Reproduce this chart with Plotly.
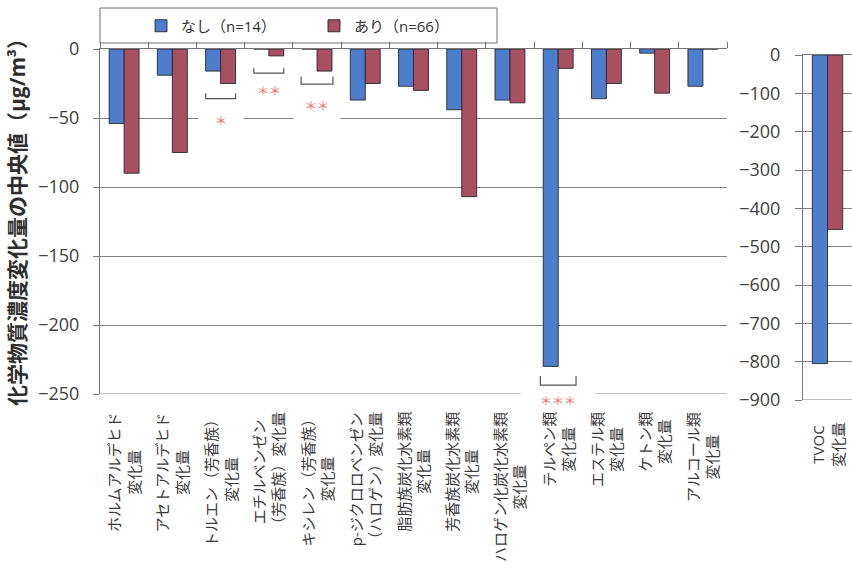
import plotly.graph_objects as go

# ---- data -------------------------------------------------------------
categories = [
    "ホルムアルデヒド<br>変化量",
    "アセトアルデヒド<br>変化量",
    "トルエン（芳香族）<br>変化量",
    "エチルベンゼン<br>（芳香族）変化量",
    "キシレン（芳香族）<br>変化量",
    "p-ジクロロベンゼン<br>（ハロゲン）変化量",
    "脂肪族炭化水素類<br>変化量",
    "芳香族炭化水素類<br>変化量",
    "ハロゲン化炭化水素類<br>変化量",
    "テルペン類<br>変化量",
    "エステル類<br>変化量",
    "ケトン類<br>変化量",
    "アルコール類<br>変化量",
]
nashi = [-54, -19, -16, 0, 0, -37, -27, -44, -37, -230, -36, -3, -27]
ari = [-90, -75, -25, -5, -16, -25, -30, -107, -39, -14, -25, -32, 0]

tvoc_category = ["TVOC<br>変化量"]
tvoc_nashi = [-805]
tvoc_ari = [-455]

series_names = ["なし（n=14）", "あり（n=66）"]

# significance: category index, stars, bracket bottom/top (µg/m³), star level
sig_index = [2, 3, 4, 9]
sig_stars = ["＊", "＊＊", "＊＊", "＊＊＊"]
sig_bracket_low = [-36, -17.5, -25.5, -243.5]
sig_bracket_high = [-32, -14, -20, -237]
sig_star_y = [-51.5, -30, -40.5, -250]

left_ticks = [0, -50, -100, -150, -200, -250]
right_ticks = list(range(0, -1000, -100))

# ---- style ------------------------------------------------------------
W, H = 852, 580
ML, MR, MT, MB = 100, 0, 49, 180
PW, PH = W - ML - MR, H - MT - MB

BLUE = "#4D7DCB"
RED = "#A84F62"
EDGE = "rgba(40,40,50,0.9)"
GRID = "#828282"
AXIS = "#767676"
TXT = "#3a3a3a"
STAR = "#FF5F5F"
FONT = "Open Sans, Noto Sans CJK JP"
JP = "Noto Sans CJK JP"

# star box sizes (white background cuts the gridline behind the stars)
star_box_w = [42, 30, 44, 72]
star_box_h = [22, 20, 30, 20]
star_shift = [0, 0, 0, -6]
bracket_half = [0.31, 0.31, 0.33, 0.37]


def fx(p):
    return (p - ML) / PW


def fy(p):
    return (H - MB - p) / PH


fig = go.Figure()

bar_style = dict(marker_line_color=EDGE, marker_line_width=1)
fig.add_trace(go.Bar(x=categories, y=nashi, name=series_names[0],
                     marker_color=BLUE, xaxis="x", yaxis="y", **bar_style))
fig.add_trace(go.Bar(x=categories, y=ari, name=series_names[1],
                     marker_color=RED, xaxis="x", yaxis="y", **bar_style))
fig.add_trace(go.Bar(x=tvoc_category, y=tvoc_nashi, name=series_names[0],
                     marker_color=BLUE, xaxis="x2", yaxis="y2",
                     showlegend=False, **bar_style))
fig.add_trace(go.Bar(x=tvoc_category, y=tvoc_ari, name=series_names[1],
                     marker_color=RED, xaxis="x2", yaxis="y2",
                     showlegend=False, **bar_style))

tickfont = dict(family=FONT, size=18, color="#404040")

fig.update_layout(
    width=W, height=H,
    margin=dict(l=ML, r=MR, t=MT, b=MB, pad=0),
    paper_bgcolor="white", plot_bgcolor="white",
    barmode="group", bargap=0.38, bargroupgap=0,
    font=dict(family=FONT, color=TXT),
    showlegend=True,
    legend=dict(orientation="h", x=fx(141), xanchor="left",
                y=fy(26), yanchor="middle",
                font=dict(family=FONT, size=15, color="#333333"),
                bgcolor="rgba(0,0,0,0)", borderwidth=0,
                entrywidth=128, entrywidthmode="pixels",
                traceorder="normal"),
    xaxis=dict(domain=[0, fx(727)], side="top", type="category",
               showline=True, linecolor=AXIS, linewidth=1,
               ticks="outside", tickson="boundaries", ticklen=6,
               tickcolor=AXIS, showticklabels=False, showgrid=False,
               zeroline=False),
    yaxis=dict(domain=[fy(394), 1], range=[-250, 0], autorange=False,
               tickvals=left_ticks, ticks="outside", ticklen=6,
               tickcolor=AXIS, showline=True, linecolor=AXIS, linewidth=1,
               showgrid=True, gridcolor=GRID, gridwidth=1,
               zeroline=False, tickfont=tickfont, ticklabelstandoff=10),
    xaxis2=dict(domain=[fx(803), 1], side="top", type="category",
                anchor="y2", showline=True, linecolor=AXIS, linewidth=1,
                ticks="", showticklabels=False, showgrid=False,
                zeroline=False),
    yaxis2=dict(domain=[0, fy(55)], anchor="x2", range=[-900, 0],
                autorange=False, tickvals=right_ticks, ticks="outside",
                ticklen=7, tickcolor=AXIS, showline=True, linecolor=AXIS,
                linewidth=1, showgrid=True, gridcolor=GRID, gridwidth=1,
                zeroline=False, tickfont=tickfont, ticklabelstandoff=11),
)

shapes = []
# bottom frame lines (range ends carry no gridline of their own)
shapes.append(dict(type="line", xref="x domain", yref="y", x0=0, x1=1,
                   y0=-250, y1=-250, line=dict(color=GRID, width=1)))
shapes.append(dict(type="line", xref="x2 domain", yref="y2", x0=0, x1=1,
                   y0=-900, y1=-900, line=dict(color=GRID, width=1)))
# legend frame
shapes.append(dict(type="rect", xref="paper", yref="paper",
                   x0=fx(100), x1=fx(497), y0=fy(43), y1=fy(8),
                   line=dict(color="#6e6e6e", width=1),
                   fillcolor="white", layer="below"))
# significance brackets
for i, lo, hi, hw in zip(sig_index, sig_bracket_low, sig_bracket_high,
                         bracket_half):
    shapes.append(dict(type="path", xref="x", yref="y",
                       path=f"M {i - hw},{hi} L {i - hw},{lo} "
                            f"L {i + hw},{lo} L {i + hw},{hi}",
                       line=dict(color="#555555", width=1.2)))
fig.update_layout(shapes=shapes)

annotations = []
for i, (idx, stars, sy) in enumerate(zip(sig_index, sig_stars, sig_star_y)):
    annotations.append(dict(x=idx, y=sy, xref="x", yref="y", text=stars,
                            showarrow=False, font=dict(family=JP, size=12,
                                                       color=STAR),
                            bgcolor="white", width=star_box_w[i],
                            height=star_box_h[i], yshift=star_shift[i],
                            xanchor="center", yanchor="middle"))

# rotated category labels under each panel
for i, lab in enumerate(categories):
    annotations.append(dict(x=i, xref="x", y=fy(394), yref="paper",
                            yshift=-16, text=lab, textangle=-90,
                            showarrow=False, align="center",
                            xanchor="center", yanchor="top",
                            font=dict(family=FONT, size=15, color=TXT)))
annotations.append(dict(x=0, xref="x2", y=0, yref="paper", yshift=-20,
                        text=tvoc_category[0], textangle=-90,
                        showarrow=False, align="center", xanchor="center",
                        yanchor="top",
                        font=dict(family=FONT, size=15, color=TXT)))

# y-axis title
annotations.append(dict(x=fx(17), y=fy(217), xref="paper", yref="paper",
                        text="<b>化学物質濃度変化量の中央値（μg/m³）</b>",
                        textangle=-90, showarrow=False,
                        xanchor="center", yanchor="middle",
                        font=dict(family=FONT, size=21, color="#2e2e2e")))
fig.update_layout(annotations=annotations)

fig.write_html("out.html")
